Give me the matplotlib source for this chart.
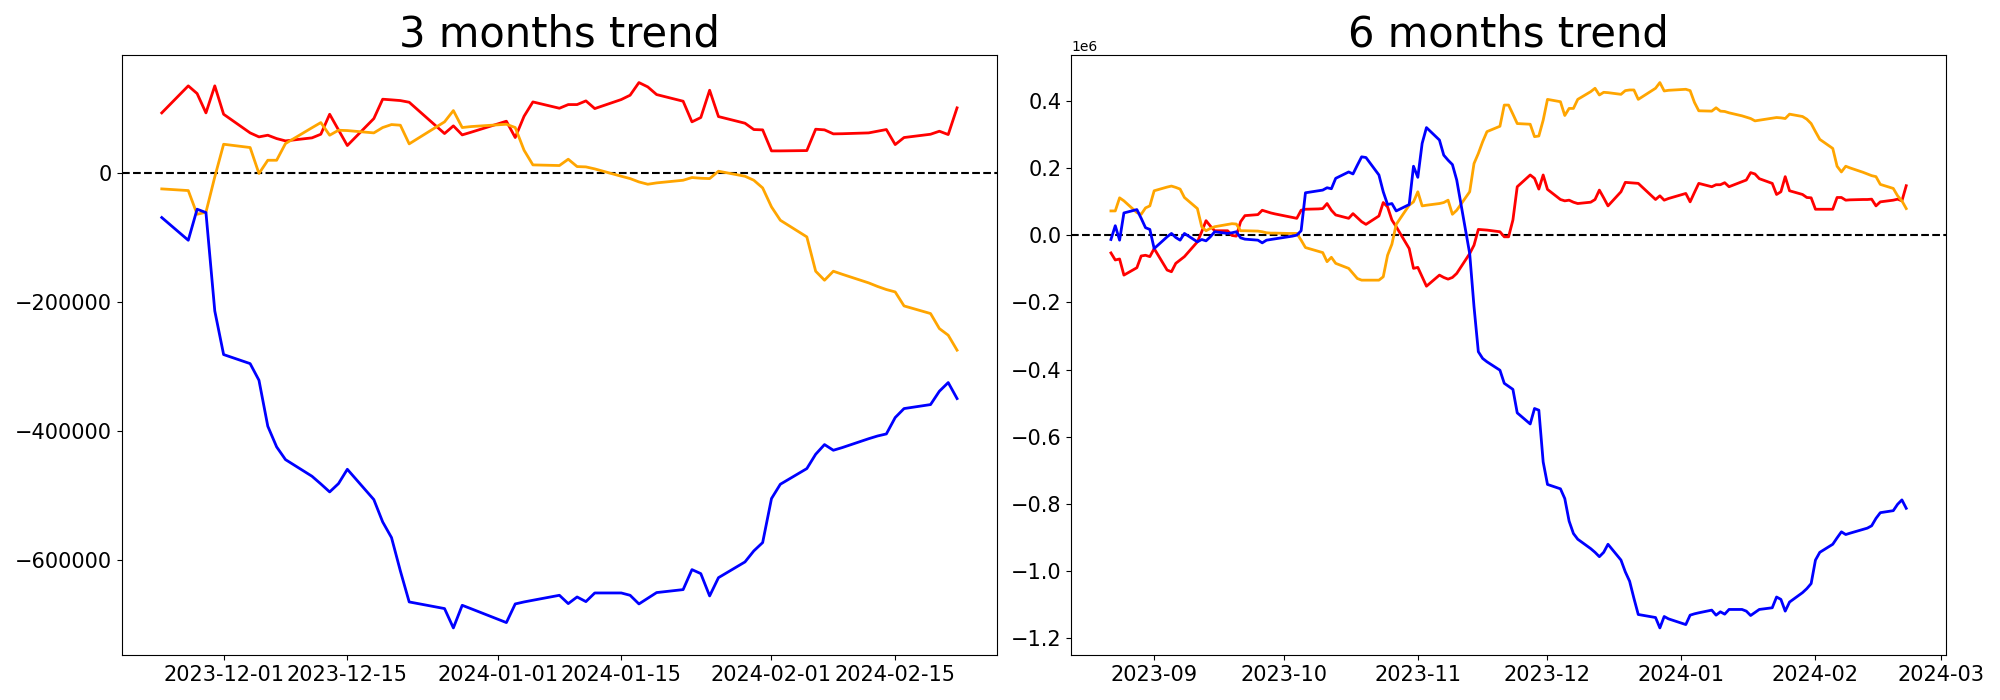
import numpy as np
import matplotlib
matplotlib.use("Agg")
import matplotlib.pyplot as plt
import pandas as pd

# trading days (weekdays, no Christmas / New Year)
holidays = ["2023-12-25", "2024-01-01"]
days_3m = pd.bdate_range("2023-11-24", "2024-02-22").drop(pd.to_datetime(holidays))
days_6m = pd.bdate_range("2023-08-22", "2024-02-22").drop(pd.to_datetime(holidays))

# 3 months - raw values
red_3m = [93000, 134900, 123000, 93000, 134900, 90900,
          62000, 55800, 58400, 53200, 49600,
          54300, 59900, 90900, 66600, 42400,
          84200, 114200, 113200, 112100, 109500,
          61000, 72900, 58900, 63000,
          80100, 54800, 87800, 110000,
          100200, 105900, 105900, 111600, 99700,
          113700, 120400, 140000, 133300, 121400,
          111100, 79100, 85800, 128100, 87300,
          77000, 67200, 66700, 34100, 34100,
          34600, 67700, 66700, 60500, 60700,
          62000, 64600, 67200, 43900, 54800,
          59900, 64600, 59400, 100800]
orange_3m = [-24800, -27400, -64100, -61000, -6200, 44400,
             39300, -1000, 19600, 19600, 45500,
             70000, 78000, 58400, 66100, 65600,
             62000, 70300, 74900, 73900, 45000,
             79100, 96600, 70300, 71800,
             75400, 70300, 35100, 12400,
             11400, 21200, 9800, 9300, 6200,
             -5200, -8800, -14000, -17600, -15500,
             -11400, -7200, -8300, -8800, 2600,
             -5200, -11400, -23300, -52700, -73400,
             -99200, -152400, -166400, -152400, -157100,
             -170500, -176000, -180800, -184500, -206200,
             -218000, -241300, -251600, -274800]
blue_3m = [-69200, -104400, -56300, -61500, -214000, -281600,
           -295600, -321400, -392700, -424700, -444400,
           -470200, -482100, -494500, -481600, -459400,
           -506400, -541000, -565300, -616900, -665000,
           -675300, -705300, -670200, -675500,
           -697000, -668100, -665000, -662400,
           -654700, -667600, -657300, -664500, -651100,
           -651100, -654700, -668100, -659300, -650500,
           -645900, -614900, -621100, -655700, -627400,
           -603000, -585900, -573000, -504800, -482600,
           -458300, -436100, -421100, -429900, -425800,
           -412000, -407800, -404600, -379200, -365300,
           -359100, -338400, -325000, -349800]

# 6 months - in millions (as read on the 1e6 axis)
red_6m = [-0.053, -0.074, -0.071, -0.119,
          -0.097, -0.062, -0.060, -0.064, -0.040,
          -0.104, -0.109, -0.084, -0.074, -0.064,
          -0.020, 0.010, 0.043, 0.027, 0.013,
          0.013, -0.001, -0.003, 0.040, 0.058,
          0.061, 0.074, 0.070, 0.066, 0.063,
          0.055, 0.052, 0.050, 0.074, 0.077,
          0.078, 0.079, 0.094, 0.074, 0.060,
          0.050, 0.064, 0.052, 0.040, 0.032,
          0.057, 0.097, 0.084, 0.045, 0.025,
          -0.040, -0.099, -0.096, -0.124, -0.152,
          -0.119, -0.126, -0.131, -0.126, -0.114,
          -0.055, -0.030, 0.017, 0.016, 0.015,
          0.010, -0.005, -0.005, 0.045, 0.144,
          0.179, 0.169, 0.137, 0.179, 0.136,
          0.106, 0.102, 0.104, 0.098, 0.094,
          0.098, 0.106, 0.134, 0.111, 0.087,
          0.129, 0.157, 0.156, 0.155, 0.154,
          0.106, 0.117, 0.104, 0.109,
          0.124, 0.099, 0.127, 0.154,
          0.144, 0.150, 0.150, 0.156, 0.144,
          0.159, 0.164, 0.186, 0.182, 0.168,
          0.154, 0.121, 0.129, 0.174, 0.132,
          0.121, 0.112, 0.111, 0.077, 0.077,
          0.077, 0.112, 0.112, 0.104, 0.105,
          0.106, 0.106, 0.107, 0.087, 0.099,
          0.104, 0.107, 0.102, 0.147]
orange_6m = [0.072, 0.072, 0.111, 0.102,
             0.067, 0.062, 0.081, 0.087, 0.132,
             0.143, 0.146, 0.142, 0.137, 0.112,
             0.079, 0.025, 0.013, 0.020, 0.025,
             0.032, 0.034, 0.033, 0.013, 0.013,
             0.012, 0.010, 0.007, 0.006, 0.006,
             0.005, 0.005, 0.005, -0.015, -0.037,
             -0.048, -0.052, -0.079, -0.066, -0.084,
             -0.099, -0.114, -0.129, -0.134, -0.134,
             -0.134, -0.124, -0.060, -0.027, 0.032,
             0.089, 0.099, 0.129, 0.087, 0.089,
             0.094, 0.097, 0.104, 0.062, 0.074,
             0.129, 0.213, 0.243, 0.278, 0.308,
             0.324, 0.387, 0.387, 0.360, 0.332,
             0.330, 0.293, 0.295, 0.342, 0.404,
             0.397, 0.356, 0.377, 0.377, 0.404,
             0.427, 0.437, 0.417, 0.425, 0.424,
             0.419, 0.430, 0.432, 0.432, 0.404,
             0.437, 0.454, 0.429, 0.431,
             0.434, 0.430, 0.395, 0.370,
             0.369, 0.379, 0.369, 0.368, 0.364,
             0.355, 0.351, 0.347, 0.340, 0.342,
             0.348, 0.350, 0.349, 0.347, 0.360,
             0.353, 0.345, 0.332, 0.308, 0.285,
             0.258, 0.205, 0.188, 0.205, 0.200,
             0.187, 0.182, 0.177, 0.174, 0.151,
             0.139, 0.117, 0.102, 0.079]
blue_6m = [-0.013, 0.028, -0.015, 0.066,
           0.076, 0.050, 0.022, 0.017, -0.040,
           -0.005, 0.005, -0.007, -0.015, 0.005,
           -0.020, -0.013, -0.017, -0.005, 0.010,
           0.005, 0.007, 0.010, -0.008, -0.012,
           -0.015, -0.023, -0.015, -0.013, -0.011,
           -0.005, -0.003, 0.000, 0.013, 0.126,
           0.132, 0.134, 0.141, 0.138, 0.169,
           0.188, 0.182, 0.208, 0.233, 0.231,
           0.179, 0.129, 0.091, 0.094, 0.072,
           0.091, 0.205, 0.172, 0.273, 0.320,
           0.283, 0.238, 0.223, 0.210, 0.164,
           -0.055, -0.213, -0.347, -0.367, -0.377,
           -0.402, -0.441, -0.450, -0.459, -0.529,
           -0.562, -0.516, -0.521, -0.675, -0.742,
           -0.755, -0.784, -0.851, -0.888, -0.905,
           -0.933, -0.944, -0.957, -0.944, -0.920,
           -0.967, -1.002, -1.030, -1.081, -1.129,
           -1.138, -1.169, -1.135, -1.142,
           -1.159, -1.131, -1.127, -1.124,
           -1.116, -1.131, -1.121, -1.128, -1.114,
           -1.114, -1.119, -1.132, -1.123, -1.114,
           -1.109, -1.077, -1.084, -1.119, -1.092,
           -1.064, -1.052, -1.037, -0.967, -0.944,
           -0.920, -0.901, -0.883, -0.891, -0.887,
           -0.876, -0.872, -0.865, -0.843, -0.826,
           -0.820, -0.801, -0.788, -0.813]

fig, (ax1, ax2) = plt.subplots(1, 2, figsize=(20, 7), dpi=100)
plt.subplots_adjust(left=0.061, right=0.973, top=0.921, bottom=0.064, wspace=0.085)

### left - 3 months
ax1.axhline(0, color="black", linestyle="--", linewidth=1.5)
ax1.plot(days_3m, red_3m, color="red", linewidth=2)
ax1.plot(days_3m, orange_3m, color="orange", linewidth=2)
ax1.plot(days_3m, blue_3m, color="blue", linewidth=2)
ax1.set_title("3 months trend", fontsize=30)
ax1.tick_params(labelsize=15)

### right - 6 months
ax2.axhline(0, color="black", linestyle="--", linewidth=1.5)
ax2.plot(days_6m, np.array(red_6m) * 1e6, color="red", linewidth=2)
ax2.plot(days_6m, np.array(orange_6m) * 1e6, color="orange", linewidth=2)
ax2.plot(days_6m, np.array(blue_6m) * 1e6, color="blue", linewidth=2)
ax2.set_title("6 months trend", fontsize=30)
ax2.tick_params(labelsize=15)

plt.savefig("out.png")
